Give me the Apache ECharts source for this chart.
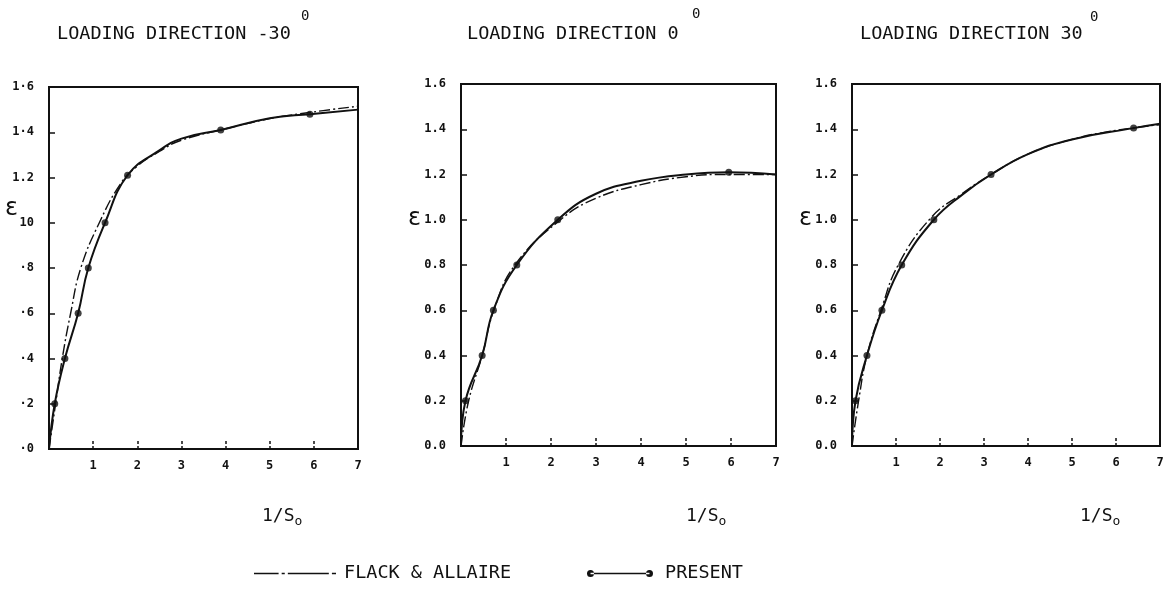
<!DOCTYPE html>
<html>
<head>
<meta charset="utf-8">
<title>Strain vs 1/So for three loading directions</title>
<script src="https://cdn.jsdelivr.net/npm/echarts@6/dist/echarts.min.js"></script>
<style>
  html, body { margin: 0; padding: 0; background: #fff; }
  #chart { width: 1173px; height: 591px; }
</style>
</head>
<body>
<div id="chart"></div>
<script>
// ---- data: strain (epsilon) against 1/So ----
const panelTitles = ['LOADING DIRECTION -30', 'LOADING DIRECTION 0', 'LOADING DIRECTION 30'];
const xTickLabels = ['', '1', '2', '3', '4', '5', '6', '7'];
const yTickLabelsA = ['·0', '·2', '·4', '·6', '·8', '10', '1.2', '1·4', '1·6'];
const yTickLabelsB = ['0.0', '0.2', '0.4', '0.6', '0.8', '1.0', '1.2', '1.4', '1.6'];

// Loading direction -30
const present1Pts = [[0.13, 0.2], [0.36, 0.4], [0.66, 0.6], [0.89, 0.8], [1.27, 1.0], [1.78, 1.21], [3.89, 1.41], [5.91, 1.48]];
const present1Mid = [[0, 0], [2.5, 1.32], [3, 1.372], [5, 1.462], [7, 1.50]];
const flack1 = [[0, 0], [0.15, 0.2], [0.30, 0.4], [0.49, 0.6], [0.72, 0.8], [1.14, 1.0], [1.63, 1.175], [2.0, 1.25], [2.5, 1.315], [3, 1.365], [4, 1.415], [5, 1.46], [6, 1.49], [7, 1.515]];

// Loading direction 0
const present2Pts = [[0.1, 0.2], [0.47, 0.4], [0.72, 0.6], [1.24, 0.8], [2.15, 1.0], [5.95, 1.21]];
const present2Mid = [[0, 0], [3, 1.115], [4, 1.172], [5, 1.2], [7, 1.2]];
const flack2 = [[0, 0], [0.17, 0.2], [0.47, 0.4], [0.73, 0.6], [1.2, 0.8], [2.21, 1.0], [3, 1.095], [4, 1.155], [5, 1.19], [5.9, 1.2], [7, 1.2]];

// Loading direction 30
const present3Pts = [[0.08, 0.2], [0.34, 0.4], [0.68, 0.6], [1.13, 0.8], [1.86, 1.0], [3.16, 1.2], [6.4, 1.405]];
const present3Mid = [[0, 0], [2.5, 1.11], [4, 1.29], [5, 1.355], [7, 1.424]];
const flack3 = [[0, 0], [0.15, 0.2], [0.34, 0.4], [0.66, 0.6], [1.05, 0.8], [1.8, 1.01], [2.5, 1.115], [3.16, 1.2], [4, 1.29], [5, 1.355], [6, 1.395], [7, 1.42]];

// ---- chart ----
const MONO = '"DejaVu Sans Mono", "Liberation Mono", monospace';
const INK = '#111';

const panels = [
  { pts: present1Pts, mid: present1Mid, flack: flack1, yLabels: yTickLabelsA,
    grid: { left: 49, top: 87, width: 309, height: 362 } },
  { pts: present2Pts, mid: present2Mid, flack: flack2, yLabels: yTickLabelsB,
    grid: { left: 461, top: 84, width: 315, height: 362 } },
  { pts: present3Pts, mid: present3Mid, flack: flack3, yLabels: yTickLabelsB,
    grid: { left: 852, top: 84, width: 308, height: 362 } }
];

const grids = [], xAxes = [], yAxes = [], series = [];
panels.forEach((p, i) => {
  grids.push(Object.assign({ show: true, borderColor: INK, borderWidth: 2, backgroundColor: 'transparent' }, p.grid));
  xAxes.push({
    type: 'value', gridIndex: i, min: 0, max: 7, interval: 1,
    axisLine: { show: false }, splitLine: { show: false },
    axisTick: { show: true, inside: true, length: 9, lineStyle: { color: INK, width: 1.5, type: [3, 2] } },
    axisLabel: { margin: 11, color: INK, fontFamily: MONO, fontSize: 12, fontWeight: 'bold',
      formatter: v => xTickLabels[Math.round(v)] }
  });
  yAxes.push({
    type: 'value', gridIndex: i, min: 0, max: 1.6, interval: 0.2,
    axisLine: { show: false }, splitLine: { show: false },
    axisTick: { show: true, inside: true, length: 6, lineStyle: { color: INK, width: 1.5 } },
    axisLabel: { margin: 15, color: INK, fontFamily: MONO, fontSize: 12, fontWeight: 'bold',
      formatter: v => p.yLabels[Math.round(v / 0.2)] }
  });
  const curve = p.pts.concat(p.mid).sort((a, b) => a[0] - b[0]);
  series.push({
    name: 'FLACK & ALLAIRE', type: 'line', xAxisIndex: i, yAxisIndex: i,
    data: p.flack, smooth: 0.45, showSymbol: false, symbol: 'none',
    color: INK, lineStyle: { color: INK, width: 1.4, type: [11, 3, 2, 3] }, silent: true, z: 2
  });
  series.push({
    name: 'PRESENT', type: 'line', xAxisIndex: i, yAxisIndex: i,
    data: curve, smooth: 0.45, showSymbol: false, symbol: 'none',
    color: INK, lineStyle: { color: INK, width: 2 }, silent: true, z: 3
  });
  series.push({
    name: 'PRESENT', type: 'scatter', xAxisIndex: i, yAxisIndex: i,
    data: p.pts, symbol: 'circle', symbolSize: 7, color: INK,
    itemStyle: { color: INK }, silent: true, z: 4
  });
});

const textBase = { fontFamily: MONO, color: INK, fontWeight: 'normal' };
const titles = [
  { text: panelTitles[0], left: 57, top: 24 },
  { text: panelTitles[1], left: 467, top: 24 },
  { text: panelTitles[2], left: 860, top: 24 }
].map(t => Object.assign({ padding: 0, textStyle: Object.assign({ fontSize: 18.5, lineHeight: 20 }, textBase) }, t));

// degree marks above each title
[[301, 9], [692, 7], [1090, 10]].forEach(([l, t]) => titles.push({
  text: '0', left: l, top: t, padding: 0,
  textStyle: Object.assign({ fontSize: 14, lineHeight: 14 }, textBase)
}));

// x-axis names 1/So
[262, 686, 1080].forEach(l => titles.push({
  text: '1/S{o|o}', left: l, top: 506, padding: 0,
  textStyle: Object.assign({ fontSize: 18, lineHeight: 20,
    rich: { o: { fontFamily: MONO, fontSize: 13, color: INK, padding: [11, 0, 0, 0] } } }, textBase)
}));

// y-axis names epsilon
[[5, 197], [408, 207], [799, 207]].forEach(([l, t]) => titles.push({
  text: 'ε', left: l, top: t, padding: 0,
  textStyle: { fontFamily: '"DejaVu Sans", sans-serif', fontSize: 24, lineHeight: 24, color: INK, fontWeight: 'normal' }
}));

const legendText = { fontFamily: MONO, fontSize: 18.5, color: INK };
const option = {
  animation: false,
  backgroundColor: '#fff',
  title: titles,
  grid: grids,
  xAxis: xAxes,
  yAxis: yAxes,
  legend: [
    {
      data: ['FLACK & ALLAIRE'], left: 254, top: 564, padding: 0, selectedMode: false,
      itemWidth: 82, itemHeight: 2,
      icon: 'path://M0,0h24v1.5h-24z M27,0h3v1.5h-3z M33,0h40v1.5h-40z M76,0h4v1.5h-4z',
      textStyle: Object.assign({ padding: [0, 0, 0, 3] }, legendText)
    },
    {
      data: ['PRESENT'], left: 587, top: 564, padding: 0, selectedMode: false,
      itemWidth: 66, itemHeight: 7,
      icon: 'path://M0,3.5a3.5,3.5 0 1,0 7,0a3.5,3.5 0 1,0 -7,0z M3.5,2.7h59v1.6h-59z M59,3.5a3.5,3.5 0 1,0 7,0a3.5,3.5 0 1,0 -7,0z',
      textStyle: Object.assign({ padding: [0, 0, 0, 7] }, legendText)
    }
  ],
  series: series
};

const chart = echarts.init(document.getElementById('chart'), null, { renderer: 'canvas' });
chart.setOption(option);
</script>
</body>
</html>
